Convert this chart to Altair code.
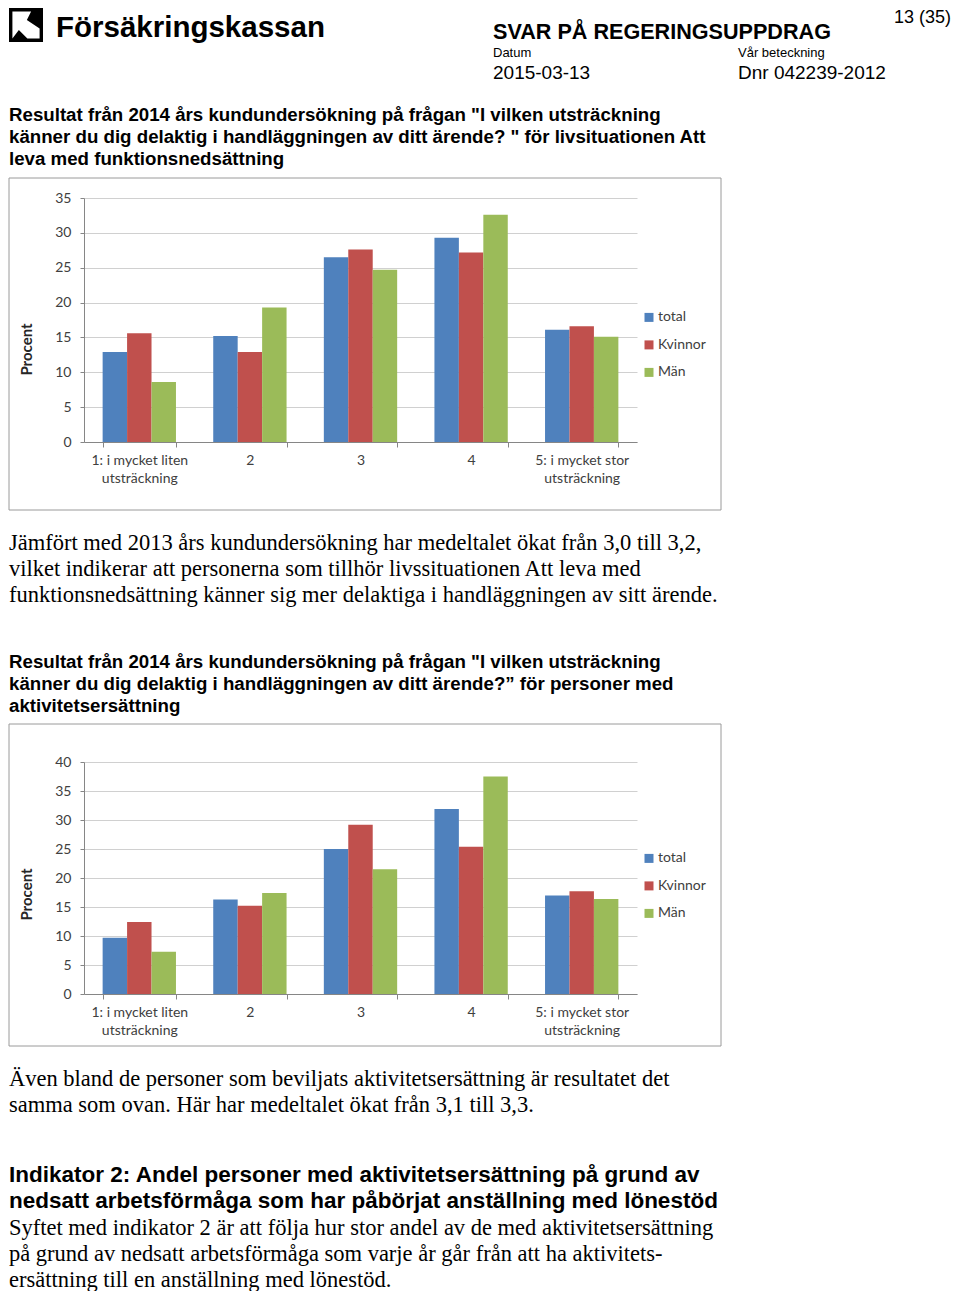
import altair as alt
import pandas as pd

# ---------------- data ----------------
categories = [
    "1: i mycket liten utsträckning",
    "2",
    "3",
    "4",
    "5: i mycket stor utsträckning",
]
series = ["total", "Kvinnor", "Män"]
series_colors = ["#4F81BD", "#C0504D", "#9BBB59"]

# Chart 1: Att leva med funktionsnedsättning
fun_total = [12.9, 15.2, 26.5, 29.3, 16.1]
fun_kvinnor = [15.6, 12.9, 27.6, 27.2, 16.6]
fun_man = [8.6, 19.3, 24.7, 32.6, 15.1]
fun_y_ticks = [0, 5, 10, 15, 20, 25, 30, 35]

# Chart 2: aktivitetsersättning
akt_total = [9.7, 16.3, 25.0, 31.9, 17.0]
akt_kvinnor = [12.4, 15.2, 29.2, 25.4, 17.7]
akt_man = [7.3, 17.4, 21.5, 37.5, 16.4]
akt_y_ticks = [0, 5, 10, 15, 20, 25, 30, 35, 40]

y_title = "Procent"

# ---------------- texts ----------------
logo_text = ["Försäkringskassan"]
doc_type = ["SVAR PÅ REGERINGSUPPDRAG"]
page_no = ["13 (35)"]
date_label = ["Datum"]
date_value = ["2015-03-13"]
ref_label = ["Vår beteckning"]
ref_value = ["Dnr 042239-2012"]

title1_lines = [
    'Resultat från 2014 års kundundersökning på frågan "I vilken utsträckning',
    'känner du dig delaktig i handläggningen av ditt ärende? " för livsituationen Att',
    "leva med funktionsnedsättning",
]
para1_lines = [
    "Jämfört med 2013 års kundundersökning har medeltalet ökat från 3,0 till 3,2,",
    "vilket indikerar att personerna som tillhör livssituationen Att leva med",
    "funktionsnedsättning känner sig mer delaktiga i handläggningen av sitt ärende.",
]
title2_lines = [
    'Resultat från 2014 års kundundersökning på frågan "I vilken utsträckning',
    "känner du dig delaktig i handläggningen av ditt ärende?\u201d för personer med",
    "aktivitetsersättning",
]
para2_lines = [
    "Även bland de personer som beviljats aktivitetsersättning är resultatet det",
    "samma som ovan. Här har medeltalet ökat från 3,1 till 3,3.",
]
heading_lines = [
    "Indikator 2: Andel personer med aktivitetsersättning på grund av",
    "nedsatt arbetsförmåga som har påbörjat anställning med lönestöd",
]
para3_lines = [
    "Syftet med indikator 2 är att följa hur stor andel av de med aktivitetsersättning",
    "på grund av nedsatt arbetsförmåga som varje år går från att ha aktivitets-",
    "ersättning till en anställning med lönestöd.",
]

SANS = "Liberation Sans"
SERIF = "Liberation Serif"
CHART_FONT = "Lato"
PANEL_W = 553
TITLE_FS = 18.7
BODY_FS = 22.5

LOGO_PATH = (
    "M-1,-1H1V1H-1Z"
    "M-0.8,-0.8V0.8H0.8V-0.8Z"
    "M0.3,-0.8H0.8V0.2L0.05,-0.3Z"
    "M-0.8,0.8L-0.42,0.3L0.08,0.8Z"
)


def text_layer(lines, x, y, size, font, weight="normal", line_height=20,
               align="left", baseline="alphabetic"):
    df = pd.DataFrame({"t": ["\n".join(lines)]})
    return alt.Chart(df).mark_text(
        x=x, y=y, fontSize=size, font=font, fontWeight=weight,
        align=align, baseline=baseline, color="#000000",
        lineBreak="\n", lineHeight=line_height,
    ).encode(text="t:N")


def bar_panel(tot, kv, man, ymax, yticks, height, frame_top, frame_bottom,
              legend_y, title_y):
    df = pd.DataFrame({
        "kategori": categories * 3,
        "serie": [s for s in series for _ in categories],
        "procent": tot + kv + man,
    })
    frame = alt.Chart(pd.DataFrame({"f": [0]})).mark_rect(
        filled=False, color="#9a9a9a", strokeWidth=1
    ).encode(
        x=alt.value(-75), x2=alt.value(637),
        y=alt.value(frame_top), y2=alt.value(frame_bottom),
    )
    bars = alt.Chart(df).mark_bar().encode(
        x=alt.X(
            "kategori:N", sort=categories, title=None,
            scale=alt.Scale(paddingInner=0.337, paddingOuter=0.1685),
            axis=alt.Axis(
                labelAngle=0,
                labelExpr="split(replace(datum.label, ' utsträckning', '|utsträckning'), '|')",
                tickBand="extent", tickSize=5, labelPadding=6,
                labelBaseline="top", labelLineHeight=18, grid=False,
            ),
        ),
        xOffset=alt.XOffset(
            "serie:N", sort=series,
            scale=alt.Scale(paddingInner=0, paddingOuter=0),
        ),
        y=alt.Y(
            "procent:Q",
            scale=alt.Scale(domain=[0, ymax], nice=False),
            axis=alt.Axis(
                values=yticks, title=y_title, titleX=-58, titleY=title_y,
                titleBaseline="middle", titleAlign="center",
                tickSize=4, labelPadding=9, grid=True,
            ),
        ),
        color=alt.Color(
            "serie:N", sort=series,
            scale=alt.Scale(domain=series, range=series_colors),
            legend=alt.Legend(
                title=None, orient="none", legendX=558, legendY=legend_y,
                symbolType="square", symbolSize=81, symbolStrokeWidth=0,
                labelFont=CHART_FONT, labelFontSize=14, labelColor="#404040",
                rowPadding=13.5, labelOffset=2, padding=0,
            ),
        ),
    )
    return alt.layer(frame, bars).properties(width=PANEL_W, height=height)


# ---------------- panels (layout x = page x - 83) ----------------
one = pd.DataFrame({"a": [0]})
top_guard = alt.Chart(one).mark_rect(opacity=0).encode(
    x=alt.value(0), x2=alt.value(10), y=alt.value(-12), y2=alt.value(-11)
)
logo = alt.Chart(one).mark_point(
    shape=LOGO_PATH, size=1156, filled=True, color="#000000",
    opacity=1, strokeWidth=0,
).encode(x=alt.value(-58), y=alt.value(5))

# header: page y = layout y + 20
header = alt.layer(
    top_guard,
    logo,
    text_layer(logo_text, -28, 16.8, 29.5, SANS, "bold"),
    text_layer(doc_type, 409, 18.6, 21.6, SANS, "bold"),
    text_layer(page_no, 867, 3, 18, SANS, align="right"),
    text_layer(date_label, 409, 36.6, 13, SANS),
    text_layer(ref_label, 654, 36.6, 13, SANS),
    text_layer(date_value, 409, 58.8, 19, SANS),
    text_layer(ref_value, 654, 58.8, 19, SANS),
    text_layer(title1_lines, -75, 100.9, TITLE_FS, SANS, "bold", 22),
).properties(width=PANEL_W, height=178)

# chart 1: page y 198 .. 442
chart1 = bar_panel(fun_total, fun_kvinnor, fun_man, 35, fun_y_ticks, 244,
                   -20, 312, 112.4, 151)

# middle text: page y = layout y + 442
middle = alt.layer(
    text_layer(para1_lines, -75, 107.8, BODY_FS, SERIF, "normal", 26),
    text_layer(title2_lines, -75, 226.4, TITLE_FS, SANS, "bold", 22),
).properties(width=PANEL_W, height=320)

# chart 2: page y 762 .. 994
chart2 = bar_panel(akt_total, akt_kvinnor, akt_man, 40, akt_y_ticks, 232,
                   -38, 284, 89.4, 132)

# bottom text: page y = layout y + 994
bottom = alt.layer(
    text_layer(para2_lines, -75, 92.3, BODY_FS, SERIF, "normal", 26),
    text_layer(heading_lines, -75, 187.5, BODY_FS, SANS, "bold", 26),
    text_layer(para3_lines, -75, 240.5, BODY_FS, SERIF, "normal", 26),
).properties(width=PANEL_W, height=290)

chart = alt.vconcat(
    header, chart1, middle, chart2, bottom, spacing=0, bounds="flush"
).resolve_scale(
    x="independent", y="independent", color="independent"
).resolve_legend(
    color="independent"
).properties(
    padding=0
).configure_view(
    strokeWidth=0
).configure_axis(
    labelFont=CHART_FONT, labelFontSize=14, labelColor="#404040",
    titleFont=CHART_FONT, titleFontSize=15, titleFontWeight="bold",
    titleColor="#262626", domainColor="#868686", tickColor="#868686",
    gridColor="#d0d0d0",
)

chart.save("out.html", embed_options={"renderer": "svg", "actions": False})
